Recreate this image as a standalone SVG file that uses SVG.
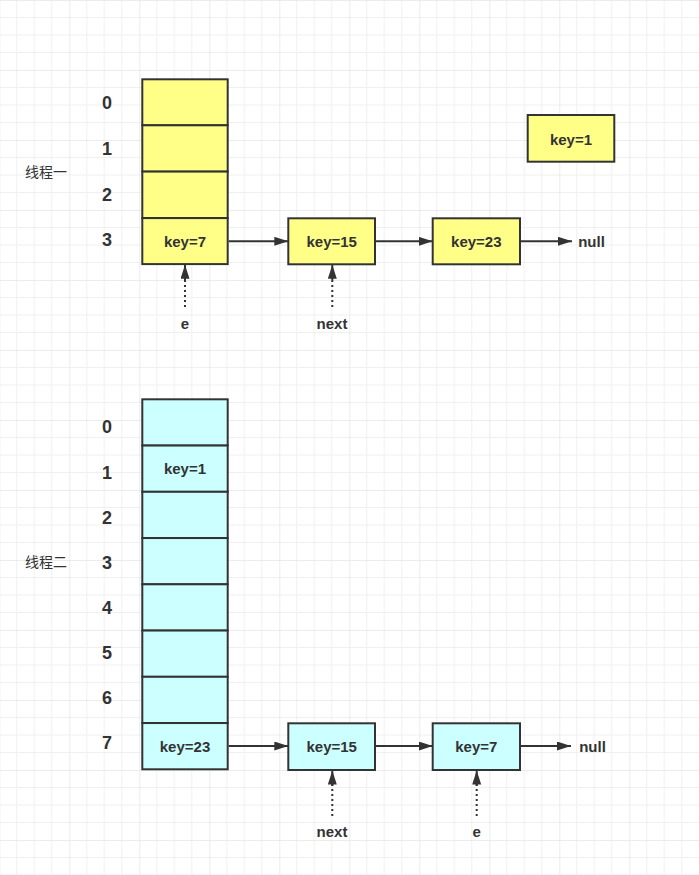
<svg xmlns="http://www.w3.org/2000/svg" width="699" height="875" viewBox="0 0 699 875">
  <defs>
    <pattern id="grid" width="70" height="70" x="-0.7" y="0" patternUnits="userSpaceOnUse">
      <path d="M17.5 0V70M35 0V70M52.5 0V70M0 17.5H70M0 35H70M0 52.5H70" fill="none" stroke="#f0f0f0" stroke-width="1"/>
      <path d="M0 0V70M0 0H70" fill="none" stroke="#e6e6e6" stroke-width="1.6"/>
    </pattern>
    <marker id="arrow" markerUnits="userSpaceOnUse" markerWidth="15" markerHeight="10" refX="14" refY="4.5" orient="auto">
      <path d="M0 0L14 4.5L0 9Z" fill="#333333"/>
    </marker>
    <style>
      .yel { fill: #ffff88; stroke: #333333; stroke-width: 2; }
      .cyan { fill: #ccffff; stroke: #333333; stroke-width: 2; }
      .key { font-family: "Liberation Sans", Arial, sans-serif; font-size: 15px; font-weight: bold; fill: #333333; text-anchor: middle; dominant-baseline: central; }
      .idx { font-family: "Liberation Sans", Arial, sans-serif; font-size: 18px; font-weight: bold; fill: #333333; text-anchor: middle; dominant-baseline: central; }
      .lbl { font-family: "Liberation Sans", "Noto Sans CJK SC", sans-serif; font-size: 14px; fill: #333333; dominant-baseline: central; }
      .link { fill: none; stroke: #333333; stroke-width: 2; marker-end: url(#arrow); }
      .ptr { fill: none; stroke: #333333; stroke-width: 2; stroke-dasharray: 2 3; }
    </style>
  </defs>

  <rect width="699" height="875" fill="#ffffff"/>
  <rect width="699" height="875" fill="url(#grid)"/>

  <!-- thread one: table of 4 buckets -->
  <g id="t1-labels">
    <text class="lbl" x="25" y="172">线程一</text>
    <text class="idx" x="107" y="103">0</text>
    <text class="idx" x="107" y="149">1</text>
    <text class="idx" x="107" y="195">2</text>
    <text class="idx" x="107" y="240">3</text>
  </g>
  <g id="t1-bucket0"><rect class="yel" x="142.3" y="79.3" width="85.4" height="46"/></g>
  <g id="t1-bucket1"><rect class="yel" x="142.3" y="125.3" width="85.4" height="46.3"/></g>
  <g id="t1-bucket2"><rect class="yel" x="142.3" y="171.6" width="85.4" height="46.5"/></g>
  <g id="t1-bucket3">
    <rect class="yel" x="142.3" y="218.1" width="85.4" height="46"/>
    <text class="key" x="185" y="241">key=7</text>
  </g>
  <g id="t1-node15">
    <rect class="yel" x="288.3" y="218.3" width="86.7" height="46"/>
    <text class="key" x="331.7" y="241">key=15</text>
  </g>
  <g id="t1-node23">
    <rect class="yel" x="432.7" y="218.3" width="87.3" height="46"/>
    <text class="key" x="476.3" y="241">key=23</text>
  </g>
  <g id="t1-node1">
    <rect class="yel" x="527.7" y="115" width="86.6" height="46.7"/>
    <text class="key" x="571" y="139">key=1</text>
  </g>
  <g id="t1-null"><text class="key" x="591.5" y="241">null</text></g>
  <g id="t1-e"><text class="key" x="185" y="323">e</text></g>
  <g id="t1-next"><text class="key" x="332" y="323">next</text></g>

  <!-- thread two: resized table of 8 buckets -->
  <g id="t2-labels">
    <text class="lbl" x="25" y="562">线程二</text>
    <text class="idx" x="107" y="427">0</text>
    <text class="idx" x="107" y="472.5">1</text>
    <text class="idx" x="107" y="517.5">2</text>
    <text class="idx" x="107" y="562.5">3</text>
    <text class="idx" x="107" y="608">4</text>
    <text class="idx" x="107" y="653">5</text>
    <text class="idx" x="107" y="698">6</text>
    <text class="idx" x="107" y="743">7</text>
  </g>
  <g id="t2-bucket0"><rect class="cyan" x="142.3" y="399.3" width="85.4" height="46.25"/></g>
  <g id="t2-bucket1">
    <rect class="cyan" x="142.3" y="445.55" width="85.4" height="46.25"/>
    <text class="key" x="185" y="468">key=1</text>
  </g>
  <g id="t2-bucket2"><rect class="cyan" x="142.3" y="491.8" width="85.4" height="46.25"/></g>
  <g id="t2-bucket3"><rect class="cyan" x="142.3" y="538.05" width="85.4" height="46.25"/></g>
  <g id="t2-bucket4"><rect class="cyan" x="142.3" y="584.3" width="85.4" height="46.25"/></g>
  <g id="t2-bucket5"><rect class="cyan" x="142.3" y="630.55" width="85.4" height="46.25"/></g>
  <g id="t2-bucket6"><rect class="cyan" x="142.3" y="676.8" width="85.4" height="46.25"/></g>
  <g id="t2-bucket7">
    <rect class="cyan" x="142.3" y="723.05" width="85.4" height="46.25"/>
    <text class="key" x="185" y="746">key=23</text>
  </g>
  <g id="t2-node15">
    <rect class="cyan" x="288.3" y="723.3" width="86.7" height="46.7"/>
    <text class="key" x="331.7" y="746">key=15</text>
  </g>
  <g id="t2-node7">
    <rect class="cyan" x="432.7" y="723.3" width="87.3" height="46.7"/>
    <text class="key" x="476.3" y="746">key=7</text>
  </g>
  <g id="t2-null"><text class="key" x="592.5" y="746">null</text></g>
  <g id="t2-next"><text class="key" x="332" y="831">next</text></g>
  <g id="t2-e"><text class="key" x="476.7" y="831">e</text></g>

  <!-- links and pointers -->
  <g id="connectors">
    <path class="link" d="M228.7 241.3H288.3"/>
    <path class="link" d="M376 241.3H432.7"/>
    <path class="link" d="M521 241.3H572"/>
    <path class="ptr" d="M185 307V278"/>
    <path class="link" d="M185 280V264.8"/>
    <path class="ptr" d="M332.3 307V278"/>
    <path class="link" d="M332.3 280V264.8"/>

    <path class="link" d="M228.7 746H288.3"/>
    <path class="link" d="M376 746H432.7"/>
    <path class="link" d="M521 746H571"/>
    <path class="ptr" d="M332.3 816V784"/>
    <path class="link" d="M332.3 786V770.5"/>
    <path class="ptr" d="M476.7 816V784"/>
    <path class="link" d="M476.7 786V770.5"/>
  </g>
</svg>
